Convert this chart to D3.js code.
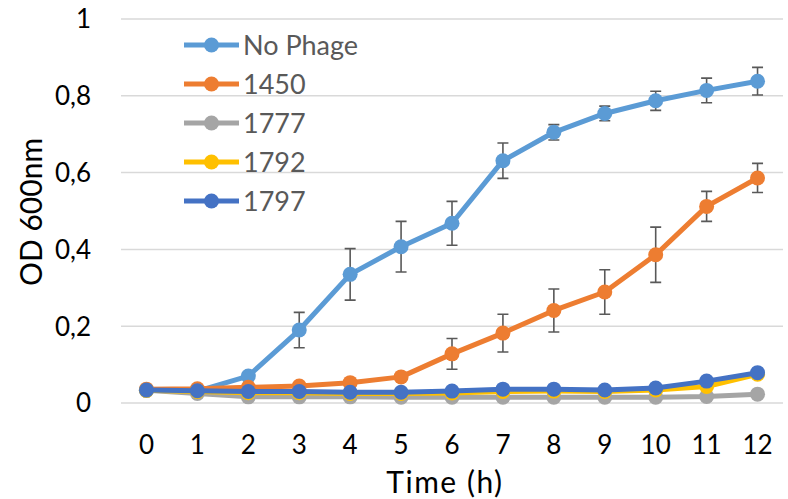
<!doctype html>
<html>
<head>
<meta charset="utf-8">
<style>
    body { margin: 0; background: white; }
    text { font-family: Lato, "Open Sans", sans-serif; }
    .grid line { stroke: #d9d9d9; stroke-width: 1.5px; }
    .tick-label { font-size: 26px; fill: #000; }
    .legend text { font-size: 27px; fill: #595959; }
    .axis-title { font-size: 30px; fill: #000; }
    .err { stroke: #595959; stroke-width: 1.6px; fill: none; }
</style>
</head>
<body>
<script src="https://cdn.jsdelivr.net/npm/d3@7"></script>
<script>
    const hours = [0, 1, 2, 3, 4, 5, 6, 7, 8, 9, 10, 11, 12];
    const yTicks = [0, 0.2, 0.4, 0.6, 0.8, 1];

    const seriesNames = ["No Phage", "1450", "1777", "1792", "1797"];
    const colours = ["#5b9bd5", "#ed7d31", "#a5a5a5", "#ffc000", "#4472c4"];

    const noPhage = [0.033, 0.031, 0.070, 0.190, 0.335, 0.407, 0.468, 0.631, 0.705, 0.754, 0.787, 0.814, 0.838];
    const noPhageErr = [0, 0, 0, 0.046, 0.067, 0.066, 0.057, 0.046, 0.020, 0.019, 0.025, 0.032, 0.036];
    const p1450 = [0.036, 0.037, 0.041, 0.044, 0.053, 0.068, 0.128, 0.182, 0.241, 0.289, 0.386, 0.512, 0.586];
    const p1450Err = [0, 0, 0, 0, 0, 0, 0.040, 0.049, 0.056, 0.058, 0.072, 0.039, 0.038];
    const p1777 = [0.033, 0.025, 0.016, 0.016, 0.016, 0.015, 0.015, 0.015, 0.015, 0.015, 0.015, 0.017, 0.023];
    const p1792 = [0.033, 0.030, 0.027, 0.027, 0.025, 0.025, 0.026, 0.030, 0.031, 0.030, 0.034, 0.043, 0.075];
    const p1797 = [0.034, 0.032, 0.030, 0.030, 0.028, 0.028, 0.031, 0.036, 0.036, 0.034, 0.039, 0.057, 0.079];

    const values = [noPhage, p1450, p1777, p1792, p1797];
    const errors = [noPhageErr, p1450Err, null, null, null];

    const width = 788, height = 499;
    const plotLeft = 121, plotRight = 783, plotTop = 19, plotBottom = 403;

    const svg = d3.select("body").append("svg")
        .attr("width", width)
        .attr("height", height);

    const x = d3.scaleBand().domain(hours).range([plotLeft, plotRight]);
    const y = d3.scaleLinear().domain([0, 1]).range([plotBottom, plotTop]);
    const cx = h => x(h) + x.bandwidth() / 2;

    // gridlines
    svg.append("g").attr("class", "grid")
        .selectAll("line")
        .data(yTicks)
        .join("line")
        .attr("x1", plotLeft).attr("x2", plotRight)
        .attr("y1", d => y(d)).attr("y2", d => y(d));

    // y tick labels
    svg.append("g")
        .selectAll("text")
        .data(yTicks)
        .join("text")
        .attr("class", "tick-label")
        .attr("x", 91)
        .attr("y", d => y(d))
        .attr("dy", "0.36em")
        .attr("text-anchor", "end")
        .text(d => d3.format(".1~f")(d).replace(".", ","));

    // x tick labels
    svg.append("g")
        .selectAll("text")
        .data(hours)
        .join("text")
        .attr("class", "tick-label")
        .attr("x", d => cx(d))
        .attr("y", 445)
        .attr("dy", "0.36em")
        .attr("text-anchor", "middle")
        .text(d => d);

    svg.append("text")
        .attr("class", "axis-title")
        .attr("x", 445)
        .attr("y", 493)
        .attr("text-anchor", "middle")
        .style("letter-spacing", "1.5px")
        .text("Time (h)");

    svg.append("text")
        .attr("class", "axis-title")
        .attr("transform", "translate(42, 212) rotate(-90)")
        .attr("text-anchor", "middle")
        .text("OD 600nm");

    const line = d3.line()
        .x((d, i) => cx(hours[i]))
        .y(d => y(d));

    // error bars first, then series
    values.forEach((vals, s) => {
        const err = errors[s];
        if (!err) return;
        const g = svg.append("g").attr("class", "err");
        hours.forEach((h, i) => {
            if (!err[i]) return;
            const xx = cx(h), y1 = y(vals[i] + err[i]), y2 = y(vals[i] - err[i]);
            g.append("path")
                .attr("d", `M${xx} ${y1} V${y2} M${xx - 5.5} ${y1} h11 M${xx - 5.5} ${y2} h11`);
        });
    });

    values.forEach((vals, s) => {
        const g = svg.append("g");
        g.append("path")
            .attr("d", line(vals))
            .attr("fill", "none")
            .attr("stroke", colours[s])
            .attr("stroke-width", 5)
            .attr("stroke-linejoin", "round");
        g.selectAll("circle")
            .data(vals)
            .join("circle")
            .attr("cx", (d, i) => cx(hours[i]))
            .attr("cy", d => y(d))
            .attr("r", 7.5)
            .attr("fill", colours[s]);
    });

    // legend
    const legend = svg.append("g").attr("class", "legend");
    seriesNames.forEach((name, i) => {
        const ly = 45 + i * 39;
        const g = legend.append("g").attr("transform", `translate(0, ${ly})`);
        g.append("line")
            .attr("x1", 184).attr("x2", 239)
            .attr("stroke", colours[i])
            .attr("stroke-width", 5);
        g.append("circle")
            .attr("cx", 211.5).attr("r", 7.5)
            .attr("fill", colours[i]);
        g.append("text")
            .attr("x", 243)
            .attr("dy", "0.36em")
            .text(name);
    });
</script>
</body>
</html>
